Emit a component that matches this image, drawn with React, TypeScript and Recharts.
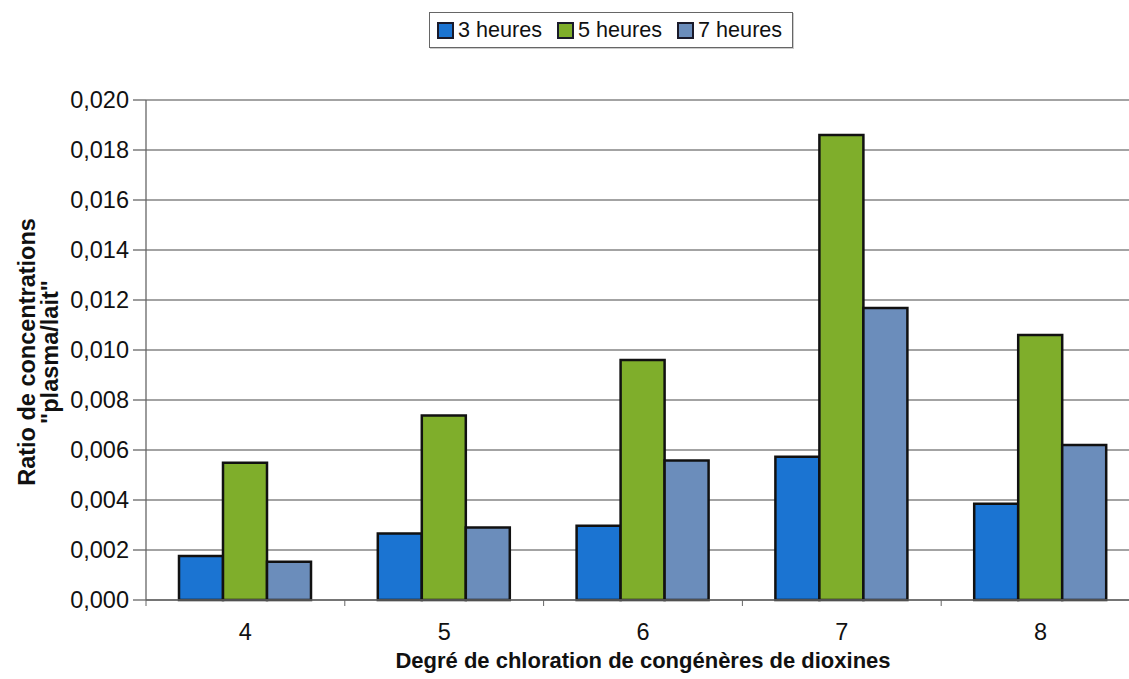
import { BarChart, Bar, XAxis, YAxis, CartesianGrid, Legend } from "recharts";

const categories = ["4", "5", "6", "7", "8"];
const heures3 = [0.00176, 0.00266, 0.00297, 0.00573, 0.00385];
const heures5 = [0.00549, 0.00738, 0.0096, 0.0186, 0.0106];
const heures7 = [0.00153, 0.0029, 0.00558, 0.01168, 0.0062];
const yTicks = [0, 0.002, 0.004, 0.006, 0.008, 0.01, 0.012, 0.014, 0.016, 0.018, 0.02];

const series = [
  { key: "h3", name: "3 heures", color: "#1b74d2" },
  { key: "h5", name: "5 heures", color: "#7fae2b" },
  { key: "h7", name: "7 heures", color: "#6b8dbb" },
];

const data = categories.map((c, i) => ({
  cat: c,
  h3: heures3[i],
  h5: heures5[i],
  h7: heures7[i],
}));

const font = "Arial, 'Liberation Sans', sans-serif";

function LegendBox() {
  return (
    <div
      style={{
        boxSizing: "border-box",
        width: 364,
        height: 36,
        display: "flex",
        alignItems: "center",
        paddingLeft: 7,
        border: "1px solid #666",
        fontFamily: font,
        fontSize: 21.6,
        color: "#111",
        background: "#fff",
        boxShadow: "1px 1px 0 #ccc",
      }}
    >
      {series.map((s, i) => (
        <span
          key={s.key}
          style={{ display: "inline-flex", alignItems: "center", marginLeft: i ? 15 : 0 }}
        >
          <span
            style={{
              boxSizing: "border-box",
              width: 17,
              height: 17,
              background: s.color,
              border: "2px solid #1a1a2a",
              marginRight: 4,
              display: "inline-block",
            }}
          />
          {s.name}
        </span>
      ))}
    </div>
  );
}

function XTick(props: any) {
  const { x, y, payload, index } = props;
  const half = payload?.offset || 99.4;
  return (
    <g>
      <line x1={x - half} x2={x - half} y1={y - 8} y2={y - 2} stroke="#666" />
      {index === categories.length - 1 && (
        <line x1={x + half} x2={x + half} y1={y - 8} y2={y - 2} stroke="#666" />
      )}
      <text x={x} y={y + 32} textAnchor="middle" fontFamily={font} fontSize={23.5} fill="#111">
        {payload.value}
      </text>
    </g>
  );
}

export default function App() {
  return (
    <div
      style={{
        position: "absolute",
        left: 0,
        top: 0,
        width: 1129,
        height: 679,
        overflow: "hidden",
        background: "#fff",
      }}
    >
      <BarChart
        width={1141}
        height={679}
        data={data}
        margin={{ top: 100, right: 1, left: 56, bottom: 49 }}
        barCategoryGap="16.6%"
        barGap={0}
      >
        <CartesianGrid vertical={false} stroke="#858585" strokeWidth={1.3} />
        <XAxis
          dataKey="cat"
          height={30}
          stroke="#666"
          strokeWidth={1.3}
          tickLine={false}
          tick={<XTick />}
          label={{
            content: () => (
              <text
                x={643}
                y={668}
                textAnchor="middle"
                fontFamily={font}
                fontSize={22}
                fontWeight="bold"
                fill="#111"
              >
                Degré de chloration de congénères de dioxines
              </text>
            ),
          }}
        />
        <YAxis
          width={90}
          domain={[0, 0.02]}
          ticks={yTicks}
          stroke="#666"
          strokeWidth={1.3}
          tickSize={13}
          tickMargin={4}
          tick={{ fontFamily: font, fontSize: 23.5, fill: "#111" }}
          tickFormatter={(v: number) => v.toFixed(3).replace(".", ",")}
          label={{
            content: () => (
              <g transform="translate(38,352) rotate(-90)">
                <text
                  x={0}
                  y={-3}
                  textAnchor="middle"
                  fontFamily={font}
                  fontSize={23.5}
                  fontWeight="bold"
                  fill="#111"
                >
                  Ratio de concentrations
                </text>
                <text
                  x={0}
                  y={20}
                  textAnchor="middle"
                  fontFamily={font}
                  fontSize={23.5}
                  fontWeight="bold"
                  fill="#111"
                >
                  "plasma/lait"
                </text>
              </g>
            ),
          }}
        />
        <Legend
          verticalAlign="top"
          align="left"
          wrapperStyle={{ position: "absolute", top: 12, left: 429, width: 364, height: 0 }}
          content={() => <LegendBox />}
        />
        {series.map((s) => (
          <Bar
            key={s.key}
            dataKey={s.key}
            name={s.name}
            fill={s.color}
            stroke="#111"
            strokeWidth={2.5}
            isAnimationActive={false}
          />
        ))}
      </BarChart>
    </div>
  );
}
